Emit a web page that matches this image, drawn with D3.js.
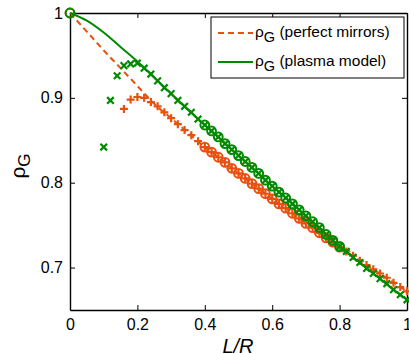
<!DOCTYPE html>
<html>
<head>
<meta charset="utf-8">
<script src="https://cdn.jsdelivr.net/npm/d3@7"></script>
<style>
  body { margin: 0; background: #fff; }
  text { font-family: "Liberation Sans", Arial, sans-serif; }
</style>
</head>
<body>
<svg id="chart" width="409" height="354"></svg>
<script>
// curves
const lineX = [0, 0.05, 0.10, 0.15, 0.20, 0.25, 0.30, 0.35, 0.40, 0.45, 0.50,
    0.55, 0.60, 0.65, 0.70, 0.75, 0.80, 0.85, 0.90, 0.95, 1.00];
const mirrorLine = [1.000, 0.978, 0.956, 0.935, 0.914, 0.893, 0.876, 0.859, 0.842, 0.827, 0.811,
    0.796, 0.781, 0.767, 0.752, 0.738, 0.724, 0.711, 0.698, 0.685, 0.672];
const plasmaLine = [1.000, 0.991, 0.977, 0.960, 0.943, 0.924, 0.905, 0.886, 0.868, 0.850, 0.832,
    0.814, 0.796, 0.779, 0.761, 0.743, 0.725, 0.709, 0.693, 0.677, 0.662];

// markers
const markX = [0.10, 0.12, 0.14, 0.16, 0.18, 0.20, 0.22, 0.24, 0.26, 0.28,
    0.30, 0.32, 0.34, 0.36, 0.38, 0.40, 0.42, 0.44, 0.46, 0.48,
    0.50, 0.52, 0.54, 0.56, 0.58, 0.60, 0.62, 0.64, 0.66, 0.68,
    0.70, 0.72, 0.74, 0.76, 0.78, 0.80, 0.82, 0.84, 0.86, 0.88,
    0.90, 0.92, 0.94, 0.96, 0.98, 1.00];
const plasmaMarks = [0.842, 0.897, 0.926, 0.938, 0.940, 0.941, 0.935, 0.928, 0.920, 0.912,
    0.905, 0.897, 0.890, 0.883, 0.875, 0.868, 0.861, 0.854, 0.846, 0.839,
    0.832, 0.825, 0.818, 0.811, 0.803, 0.796, 0.789, 0.782, 0.775, 0.768,
    0.761, 0.754, 0.747, 0.739, 0.732, 0.725, 0.719, 0.712, 0.706, 0.699,
    0.693, 0.687, 0.681, 0.674, 0.668, 0.662];
// perfect mirrors markers start at L/R = 0.16
const mirrorMarks = [null, null, null, 0.887, 0.898, 0.901, 0.900, 0.895, 0.890, 0.883,
    0.876, 0.869, 0.862, 0.856, 0.849, 0.842, 0.836, 0.830, 0.824, 0.817,
    0.811, 0.805, 0.799, 0.793, 0.787, 0.781, 0.775, 0.770, 0.764, 0.758,
    0.752, 0.747, 0.741, 0.735, 0.730, 0.724, 0.719, 0.714, 0.708, 0.703,
    0.698, 0.693, 0.688, 0.682, 0.677, 0.672];
const circleRange = [0.40, 0.80];

const xTicks = [0, 0.2, 0.4, 0.6, 0.8, 1];
const yTicks = [0.7, 0.8, 0.9, 1];

const orange = "#e8500e";
const green = "#008a00";

const svg = d3.select("#chart");
const x = d3.scaleLinear().domain([0, 1]).range([70, 407]);
const y = d3.scaleLinear().domain([0.65, 1]).range([310, 13]);
const fmt = d => d === 0 || d === 1 ? String(d) : d3.format(".1f")(d);

// axes, ticks inward, box all round
const axes = svg.append("g");
axes.append("g").attr("transform", `translate(0,${y.range()[0]})`)
    .call(d3.axisBottom(x).tickValues(xTicks).tickFormat(fmt).tickSizeInner(-5).tickSizeOuter(0).tickPadding(9));
axes.append("g").attr("transform", `translate(0,${y.range()[1]})`)
    .call(d3.axisTop(x).tickValues(xTicks).tickFormat("").tickSizeInner(-5).tickSizeOuter(0));
axes.append("g").attr("transform", `translate(${x.range()[0]},0)`)
    .call(d3.axisLeft(y).tickValues(yTicks).tickFormat(fmt).tickSizeInner(-5).tickSizeOuter(0).tickPadding(7));
axes.append("g").attr("transform", `translate(${x.range()[1]},0)`)
    .call(d3.axisRight(y).tickValues(yTicks).tickFormat("").tickSizeInner(-5).tickSizeOuter(0));
axes.selectAll("text").style("font-size", "16px").attr("fill", "#000");
axes.selectAll(".domain").attr("stroke", "#000").attr("stroke-width", 1.4);
axes.selectAll(".tick line").attr("stroke", "#000").attr("stroke-width", 1);

const line = d3.line()
    .x(d => x(d[0]))
    .y(d => y(d[1]))
    .curve(d3.curveMonotoneX);

const plot = svg.append("g");

function drawSeries(lineVals, marks, color, dashed, shape) {
    plot.append("path")
        .datum(lineX.map((v, i) => [v, lineVals[i]]))
        .attr("d", line)
        .attr("fill", "none")
        .attr("stroke", color)
        .attr("stroke-width", 2)
        .attr("stroke-dasharray", dashed ? "6,4" : null);

    const pts = markX.map((v, i) => [v, marks[i]]).filter(d => d[1] != null);
    const crossPath = shape === "plus" ? "M-4,0H4M0,-4V4" : "M-3.3,-3.3L3.3,3.3M-3.3,3.3L3.3,-3.3";
    plot.append("g").selectAll("path")
        .data(pts)
        .join("path")
        .attr("transform", d => `translate(${x(d[0])},${y(d[1])})`)
        .attr("d", crossPath)
        .attr("stroke", color)
        .attr("stroke-width", 2.2)
        .attr("fill", "none");

    const circ = [[0, 1]].concat(pts.filter(d => d[0] >= circleRange[0] - 1e-9 && d[0] <= circleRange[1] + 1e-9));
    plot.append("g").selectAll("circle")
        .data(circ)
        .join("circle")
        .attr("cx", d => x(d[0]))
        .attr("cy", d => y(d[1]))
        .attr("r", 4.4)
        .attr("fill", "none")
        .attr("stroke", color)
        .attr("stroke-width", 2);
}

drawSeries(mirrorLine, mirrorMarks, orange, true, "plus");
drawSeries(plasmaLine, plasmaMarks, green, false, "cross");

// axis labels
svg.append("text")
    .attr("x", 238).attr("y", 353)
    .attr("text-anchor", "middle")
    .style("font-size", "20px").style("font-style", "italic")
    .text("L/R");

const yl = svg.append("text")
    .attr("transform", "translate(25,166) rotate(-90)")
    .attr("text-anchor", "middle")
    .style("font-size", "21px");
yl.append("tspan").text("ρ");
yl.append("tspan").attr("dy", 5).style("font-size", "17px").text("G");

// legend
const legend = svg.append("g");
legend.append("rect")
    .attr("x", 211).attr("y", 17).attr("width", 193).attr("height", 61)
    .attr("fill", "#fff").attr("stroke", "#000").attr("stroke-width", 1);
const entries = [
    { label: " (perfect mirrors)", color: orange, dashed: true, y: 33 },
    { label: " (plasma model)", color: green, dashed: false, y: 62 }
];
entries.forEach(e => {
    legend.append("line")
        .attr("x1", 218).attr("x2", 253).attr("y1", e.y).attr("y2", e.y)
        .attr("stroke", e.color).attr("stroke-width", 2)
        .attr("stroke-dasharray", e.dashed ? "6,4" : null);
    const t = legend.append("text")
        .attr("x", 255).attr("y", e.y + 4)
        .style("font-size", "15.5px");
    t.append("tspan").text("ρ");
    t.append("tspan").attr("dy", 5).style("font-size", "14.5px").text("G");
    t.append("tspan").attr("dy", -5).text(e.label);
});
</script>
</body>
</html>
